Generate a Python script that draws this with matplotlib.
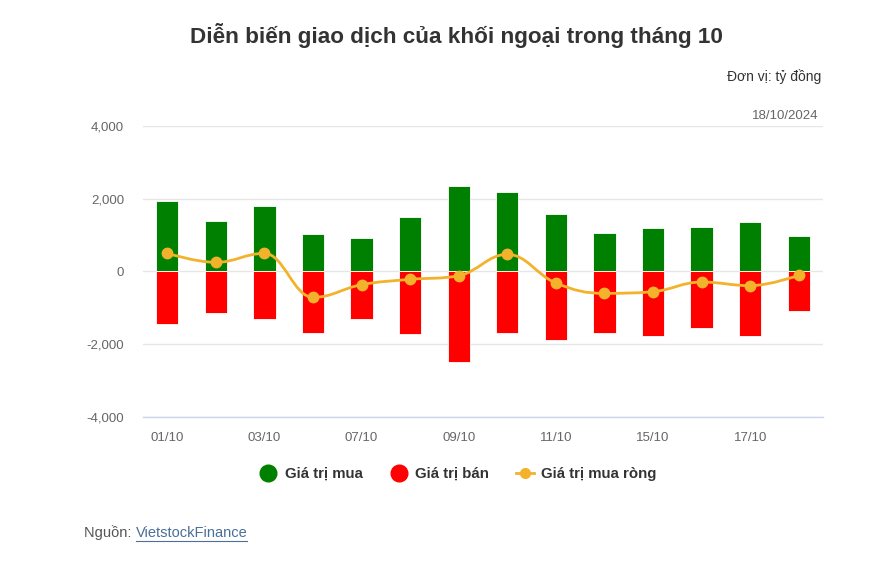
import matplotlib
matplotlib.use("Agg")
import matplotlib.pyplot as plt
from matplotlib.path import Path
from matplotlib.patches import PathPatch
from matplotlib.lines import Line2D
import numpy as np

plt.rcParams['font.family'] = ['Liberation Sans', 'DejaVu Sans']

dates = ["01/10", "02/10", "03/10", "04/10", "07/10", "08/10", "09/10",
         "10/10", "11/10", "14/10", "15/10", "16/10", "17/10", "18/10"]
buy = [1940, 1391, 1803, 1016, 915, 1491, 2352, 2178, 1565, 1043, 1190, 1217, 1354, 979]
sell = [-1455, -1144, -1318, -1693, -1318, -1729, -2489, -1693, -1894, -1693, -1766, -1556, -1766, -1098]
net = [494, 247, 494, -714, -366, -220, -119, 467, -320, -604, -558, -293, -393, -110]
yticks = [-4000, -2000, 0, 2000, 4000]
ytick_labels = ["-4,000", "-2,000", "0", "2,000", "4,000"]

GREEN = "#008000"
RED = "#FF0000"
ORANGE = "#F3B22B"

fig = plt.figure(figsize=(8.83, 5.72), dpi=100)
ax = fig.add_axes([143 / 883, 1 - 417 / 572, (823 - 143) / 883, (417 - 125.7) / 572])

x = np.arange(len(dates))
ax.bar(x, buy, width=0.46, color=GREEN, edgecolor="white", linewidth=0.6, zorder=2)
ax.bar(x, sell, width=0.46, color=RED, edgecolor="white", linewidth=0.6, zorder=2)


def spline_path(xs, ys, smoothing=1.5):
    n = len(xs)
    lc = [None] * n
    rc = [None] * n
    for i in range(n):
        px, py = xs[i], ys[i]
        if 0 < i < n - 1:
            lx, ly = xs[i - 1], ys[i - 1]
            nx, ny = xs[i + 1], ys[i + 1]
            d = smoothing + 1
            lcx = (smoothing * px + lx) / d
            lcy = (smoothing * py + ly) / d
            rcx = (smoothing * px + nx) / d
            rcy = (smoothing * py + ny) / d
            if rcx != lcx:
                corr = ((rcy - lcy) * (rcx - px)) / (rcx - lcx) + py - rcy
                lcy += corr
                rcy += corr
            if lcy > ly and lcy > py:
                lcy = max(ly, py)
                rcy = 2 * py - lcy
            elif lcy < ly and lcy < py:
                lcy = min(ly, py)
                rcy = 2 * py - lcy
            if rcy > ny and rcy > py:
                rcy = max(ny, py)
                lcy = 2 * py - rcy
            elif rcy < ny and rcy < py:
                rcy = min(ny, py)
                lcy = 2 * py - rcy
            lc[i] = (lcx, lcy)
            rc[i] = (rcx, rcy)
        else:
            lc[i] = (px, py)
            rc[i] = (px, py)
    verts = [(xs[0], ys[0])]
    codes = [Path.MOVETO]
    for i in range(1, n):
        verts += [rc[i - 1], lc[i], (xs[i], ys[i])]
        codes += [Path.CURVE4] * 3
    return Path(verts, codes)


path = spline_path(list(x), net)
ax.add_patch(PathPatch(path, facecolor="none", edgecolor=ORANGE, linewidth=2, zorder=3))
ax.plot(x, net, linestyle="none", marker="o", markersize=7.5, color=ORANGE, zorder=4)

ax.set_xlim(-0.5, len(dates) - 0.5)
ax.set_ylim(-4000, 4000)
ax.set_yticks(yticks)
ax.set_yticklabels(ytick_labels)
ax.set_xticks(x[::2])
ax.set_xticklabels(dates[::2])
ax.grid(axis="y", color="#e6e6e6", linewidth=1, zorder=0)
ax.set_axisbelow(True)
for s in ["left", "right", "top"]:
    ax.spines[s].set_visible(False)
ax.spines["bottom"].set_color("#ccd6eb")
ax.spines["bottom"].set_linewidth(1)
ax.tick_params(axis="both", length=0, colors="#666666", labelsize=9.5)
ax.tick_params(axis="y", pad=13.5)
ax.tick_params(axis="x", pad=11)

fig.text(456 / 883, 1 - 36 / 572, "Diễn biến giao dịch của khối ngoại trong tháng 10",
         ha="center", va="center", fontsize=16.2, fontweight="bold", color="#333333")
fig.text(821 / 883, 1 - 77 / 572, "Đơn vị: tỷ đồng", ha="right", va="center",
         fontsize=10, color="#333333")
fig.text(818 / 883, 1 - 116 / 572, "18/10/2024", ha="right", va="center",
         fontsize=9.5, color="#666666")

handles = [
    Line2D([], [], linestyle="none", marker="o", markersize=12, color=GREEN),
    Line2D([], [], linestyle="none", marker="o", markersize=12, color=RED),
    Line2D([], [], color=ORANGE, linewidth=2, marker="o", markersize=7),
]
labels = ["Giá trị mua", "Giá trị bán", "Giá trị mua ròng"]
leg = fig.legend(handles, labels, loc="center", bbox_to_anchor=(458 / 883, 1 - 474 / 572),
                 ncol=3, frameon=False, handlelength=1.2, handletextpad=0.5,
                 columnspacing=1.8, prop={"weight": "bold", "size": 10.8})
for t in leg.get_texts():
    t.set_color("#333333")

t1 = fig.text(84 / 883, 1 - 533 / 572, "Nguồn: ", ha="left", va="center",
              fontsize=10.5, color="#555555")
fig.canvas.draw()
bb = t1.get_window_extent()
t2 = fig.text(bb.x1 / 883, 1 - 533 / 572, "VietstockFinance", ha="left", va="center",
              fontsize=10.5, color="#4a6f99")
bb2 = t2.get_window_extent()
fig.add_artist(Line2D([bb2.x0 / 883, bb2.x1 / 883], [(bb2.y0 - 1) / 572, (bb2.y0 - 1) / 572],
                      color="#4a6f99", linewidth=0.8, transform=fig.transFigure))

fig.savefig("out.png", dpi=100, facecolor="white")
